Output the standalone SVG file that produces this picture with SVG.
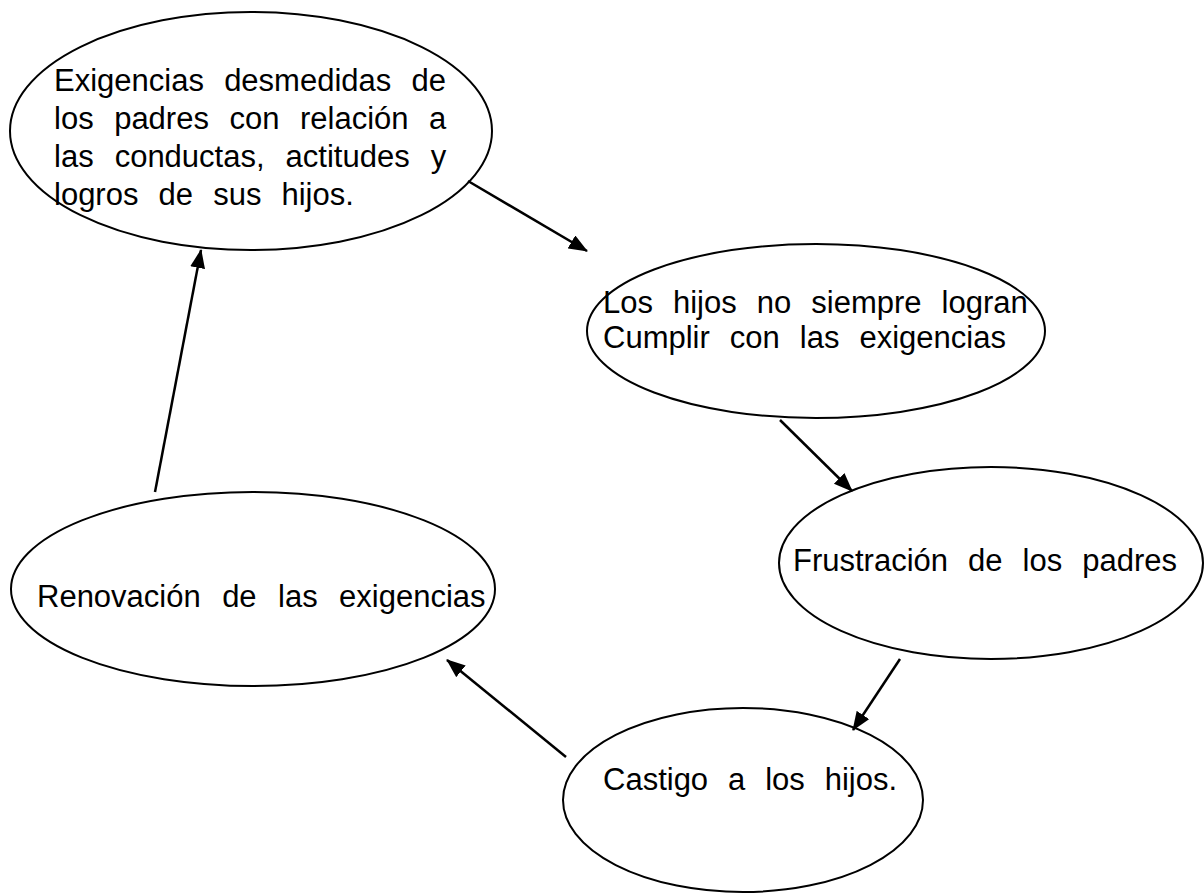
<svg xmlns="http://www.w3.org/2000/svg" width="1204" height="895" viewBox="0 0 1204 895">
<style>
.node ellipse{fill:#ffffff;stroke:#000000;stroke-width:2}
.node text{font-family:"Liberation Sans",Arial,sans-serif;font-size:31px;fill:#000000}
.conn line{stroke:#000000;stroke-width:2.5;marker-end:url(#ah)}
</style>
<defs>
<marker id="ah" markerUnits="userSpaceOnUse" markerWidth="20" markerHeight="16" refX="18" refY="7.5" orient="auto">
<path d="M0,0 L19,7.5 L0,15 z" fill="#000000"/>
</marker>
</defs>
<rect width="1204" height="895" fill="#ffffff"/>
<g id="n1" class="node">
<ellipse cx="251" cy="131" rx="241" ry="119"/>
<text x="54" y="91" word-spacing="11.6">Exigencias desmedidas de</text>
<text x="54" y="129" word-spacing="11.9">los padres con relación a</text>
<text x="54" y="167" word-spacing="12.4">las conductas, actitudes y</text>
<text x="54" y="205" word-spacing="11.5">logros de sus hijos.</text>
</g>
<g id="n2" class="node">
<ellipse cx="816" cy="331" rx="229" ry="87"/>
<text x="603" y="313" word-spacing="11.4">Los hijos no siempre logran</text>
<text x="603" y="348" word-spacing="11.4">Cumplir con las exigencias</text>
</g>
<g id="n3" class="node">
<ellipse cx="991" cy="563" rx="212" ry="96"/>
<text x="793" y="571" word-spacing="11.4">Frustración de los padres</text>
</g>
<g id="n4" class="node">
<ellipse cx="743" cy="800" rx="180" ry="92"/>
<text x="603" y="790" word-spacing="11.3">Castigo a los hijos.</text>
</g>
<g id="n5" class="node">
<ellipse cx="253" cy="589" rx="242" ry="97"/>
<text x="37" y="607" word-spacing="12.8">Renovación de las exigencias</text>
</g>
<g id="connectors" class="conn">
<line x1="468" y1="181" x2="587" y2="251"/>
<line x1="780" y1="420" x2="852" y2="491"/>
<line x1="900" y1="659" x2="853" y2="730"/>
<line x1="566" y1="757" x2="447" y2="660"/>
<line x1="155" y1="492" x2="201" y2="250"/>
</g>
</svg>
